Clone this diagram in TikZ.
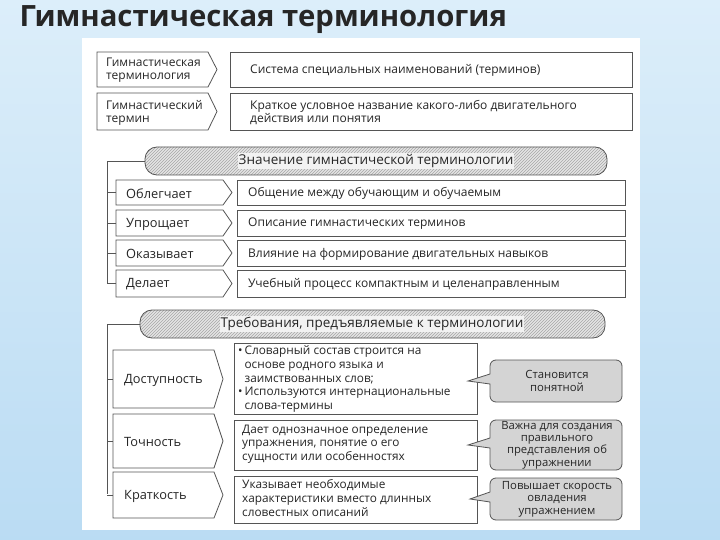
\documentclass[tikz,border=0pt]{standalone}
\usepackage{fontspec}
\setmainfont{Open Sans}
\usetikzlibrary{patterns}
\definecolor{bgA}{HTML}{A9D3F0}
\definecolor{bgB}{HTML}{DCEEFA}
\definecolor{ln}{HTML}{555555}
\definecolor{cg}{HTML}{D4D4D4}
\tikzset{
  box/.style={draw=ln,line width=0.8pt,fill=white},
  txt/.style={font=\fontsize{12}{13}\selectfont,text=black!85,align=left,anchor=west,inner sep=0pt},
  mtxt/.style={txt,font=\fontsize{11.8}{13.6}\selectfont},
  ltxt/.style={txt,font=\fontsize{12.8}{14}\selectfont},
  ctxt/.style={font=\fontsize{11.3}{12.4}\selectfont,align=center,text=black!85,inner sep=0pt},
  htxt/.style={font=\fontsize{13.5}{15}\selectfont,text=black!85,fill=cg!30,inner sep=1pt},
  brk/.style={draw=ln,line width=0.8pt},
  callbox/.style={draw=ln,line width=0.8pt,fill=cg},
}
\newcommand{\chevbox}[4]{\path[box] (#1,#2)--({#3-9},#2)--(#3,{(#2+#4)/2})--({#3-9},#4)--(#1,#4)--cycle;}
\newcommand{\callout}[5]{%
 \path[callbox,rounded corners=6pt] (#1,{(#2+#4)/2-7}) -- (#1,#2) -- (#3,#2) -- (#3,#4) -- (#1,#4) [sharp corners]-- (#1,{(#2+#4)/2+3}) -- (#5,{(#2+#4)/2}) -- cycle;}
\newcommand{\hdrbox}[4]{%
 \path[fill=cg!60,rounded corners=12pt] (#1,#2) rectangle (#3,#4);
 \path[pattern=north east lines,pattern color=gray!70,rounded corners=12pt] (#1,#2) rectangle (#3,#4);
 \draw[ln,line width=0.8pt,rounded corners=12pt] (#1,#2) rectangle (#3,#4);}
\begin{document}
\begin{tikzpicture}[x=1pt,y=-1pt]
\useasboundingbox (0,0) rectangle (720,540);
\shade[top color=bgB,bottom color=bgA!80] (0,0) rectangle (720,540);
\fill[white] (82,38) rectangle (640,530);
\node[anchor=west,font=\fontsize{29.3}{31}\selectfont\bfseries,text=black!85] (title) at (16,20) {Гимнастическая терминология};
% top rows
\chevbox{97}{52}{217}{87}
\path[box] (230,52) rectangle (632,87);
\node[txt] (t1) at (106,70.5) {Гимнастическая\\терминология};
\node[txt] (d1) at (250,70.5) {Система специальных наименований (терминов)};
\chevbox{97}{93}{217}{130}
\path[box] (230,93) rectangle (632,130);
\node[txt] (t2) at (106,112.5) {Гимнастический\\термин};
\node[txt] (d2) at (250,112.5) {Краткое условное название какого-либо двигательного\\действия или понятия};
% header 1
\hdrbox{145}{147}{607}{175}
\node[htxt] (h1) at (376,161) {Значение гимнастической терминологии};
\coordinate (b1) at (107,161);
\draw[brk] (145,161) -- (b1) -- (107,284);
\foreach \a/\b/\n/\t in {180/205/o1/Облегчает,210/236/o2/Упрощает,240/266/o3/Оказывает,270/297/o4/Делает}{
  \chevbox{116}{\a}{232}{\b}
  \node[ltxt] (\n) at (126,{(\a+\b)/2+1}) {\t};
  \path[box] (237,\a) rectangle (625,\b);
  \coordinate (c\n) at (116,{(\a+\b)/2});
  \draw[brk] (107,{(\a+\b)/2}) -- (c\n);
}
\node[txt] (p1) at (248,193.5) {Общение между обучающим и обучаемым};
\node[txt] (p2) at (248,224) {Описание гимнастических терминов};
\node[txt] (p3) at (248,254) {Влияние на формирование двигательных навыков};
\node[txt] (p4) at (248,284.5) {Учебный процесс компактным и целенаправленным};
% header 2
\hdrbox{140}{310}{605}{338}
\node[htxt] (h2) at (372,324) {Требования, предъявляемые к терминологии};
\draw[brk] (140,324) -- (107,324) -- (107,494);
\foreach \a/\b/\n/\t in {350/408/r1/Доступность,414/468/r2/Точность,472/518/r3/Краткость}{
  \chevbox{113}{\a}{223}{\b}
  \node[ltxt] (\n) at (124,{(\a+\b)/2+1}) {\t};
  \coordinate (c\n) at (113,{(\a+\b)/2});
  \draw[brk] (107,{(\a+\b)/2}) -- (c\n);
}
\path[box] (234,343) rectangle (477,414);
\path[box] (234,420) rectangle (477,470);
\path[box] (234,476) rectangle (477,523);
\node[mtxt] (m1) at (238,379) {•\,Словарный состав строится на\\\hphantom{•\,}основе родного языка и\\\hphantom{•\,}заимствованных слов;\\•\,Используются интернациональные\\\hphantom{•\,}слова-термины};
\node[mtxt] (m2) at (242,444) {Дает однозначное определение\\упражнения, понятие о его\\сущности или особенностях};
\node[mtxt] (m3) at (242,498) {Указывает необходимые\\характеристики вместо длинных\\словестных описаний};
\callout{490}{360}{622}{402}{468}
\callout{490}{420}{622}{470}{468}
\callout{490}{478}{622}{520}{470}
\node[ctxt] (k1) at (557,381) {Становится\\понятной};
\node[ctxt] (k2) at (557,445) {Важна для создания\\правильного\\представления об\\упражнении};
\node[ctxt] (k3) at (557,499) {Повышает скорость\\овладения\\упражнением};
\end{tikzpicture}
\end{document}
